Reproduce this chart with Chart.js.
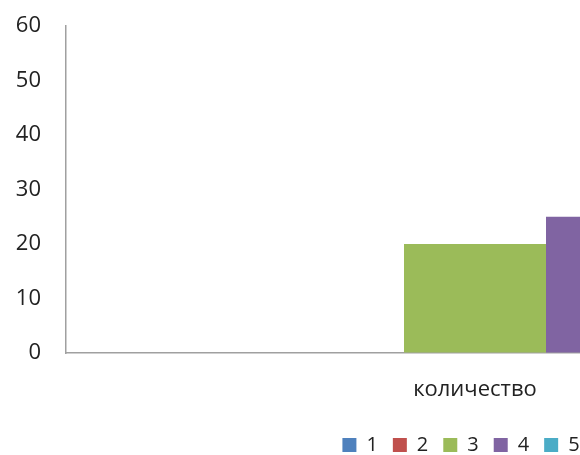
<!DOCTYPE html>
<html>
<head>
<meta charset="utf-8">
<script src="https://cdn.jsdelivr.net/npm/chart.js@4.4.0/dist/chart.umd.min.js"></script>
<style>
    html, body { margin: 0; padding: 0; background: #fff; }
    /* the reference shows only the left part of a wider chart */
    #wrap { width: 580px; height: 455px; overflow: hidden; position: relative; }
    #box { width: 884px; height: 455px; position: absolute; left: 0; top: 10px; }
</style>
</head>
<body>
<div id="wrap"><div id="box"><canvas id="chart"></canvas></div></div>
<script>
// Chart data
const categories = ['количество'];
const seriesNames = ['1', '2', '3', '4', '5'];
const seriesValues = [[0], [0], [20], [25], [30]];
const yTicks = [0, 10, 20, 30, 40, 50, 60];

// Office 2007 palette
const SERIES_COLORS = ['#4F81BD', '#C0504D', '#9BBB59', '#8064A2', '#4BACC6'];

const TEXT_COLOR = '#222222';
const AXIS_COLOR = '#a0a0a0';
const FONT = '"Open Sans", "DejaVu Sans", sans-serif';

// the legend in the original is not centred under the plot, nudge it right
const legendShift = {
    id: 'legendShift',
    afterLayout: (chart) => {
        chart.legend.left += 19;
        chart.legend.right += 19;
    }
};

const ctx = document.getElementById('chart').getContext('2d');

const datasets = seriesNames.map((name, i) => ({
    label: name,
    data: seriesValues[i],
    backgroundColor: SERIES_COLORS[i],
    borderWidth: 0,
    categoryPercentage: 0.868,
    barPercentage: 1.0
}));

new Chart(ctx, {
    type: 'bar',
    data: { labels: categories, datasets },
    plugins: [legendShift],
    options: {
        responsive: true,
        maintainAspectRatio: false,
        animation: false,
        layout: { padding: { top: 16, right: 0, left: 0, bottom: 0 } },
        scales: {
            x: {
                grid: { display: true, drawOnChartArea: false, drawTicks: false },
                border: { display: true, color: AXIS_COLOR, width: 1.5 },
                ticks: {
                    color: TEXT_COLOR,
                    font: { family: FONT, size: 22 },
                    padding: 24
                },
                afterFit: (scale) => { scale.height = 67; }
            },
            y: {
                min: 0,
                max: 60,
                afterBuildTicks: (scale) => { scale.ticks = yTicks.map(v => ({ value: v })); },
                grid: {
                    display: true,
                    drawOnChartArea: false,
                    drawTicks: true,
                    tickLength: 25,
                    tickColor: 'transparent'
                },
                border: { display: true, color: AXIS_COLOR, width: 1.5 },
                ticks: {
                    color: TEXT_COLOR,
                    font: { family: FONT, size: 22 },
                    padding: 0
                },
                afterFit: (scale) => { scale.width = 66; }
            }
        },
        plugins: {
            legend: {
                position: 'bottom',
                labels: {
                    color: TEXT_COLOR,
                    font: { family: FONT, size: 20 },
                    boxWidth: 14,
                    boxHeight: 14,
                    padding: 15
                }
            },
            tooltip: { enabled: false }
        }
    }
});
</script>
</body>
</html>
